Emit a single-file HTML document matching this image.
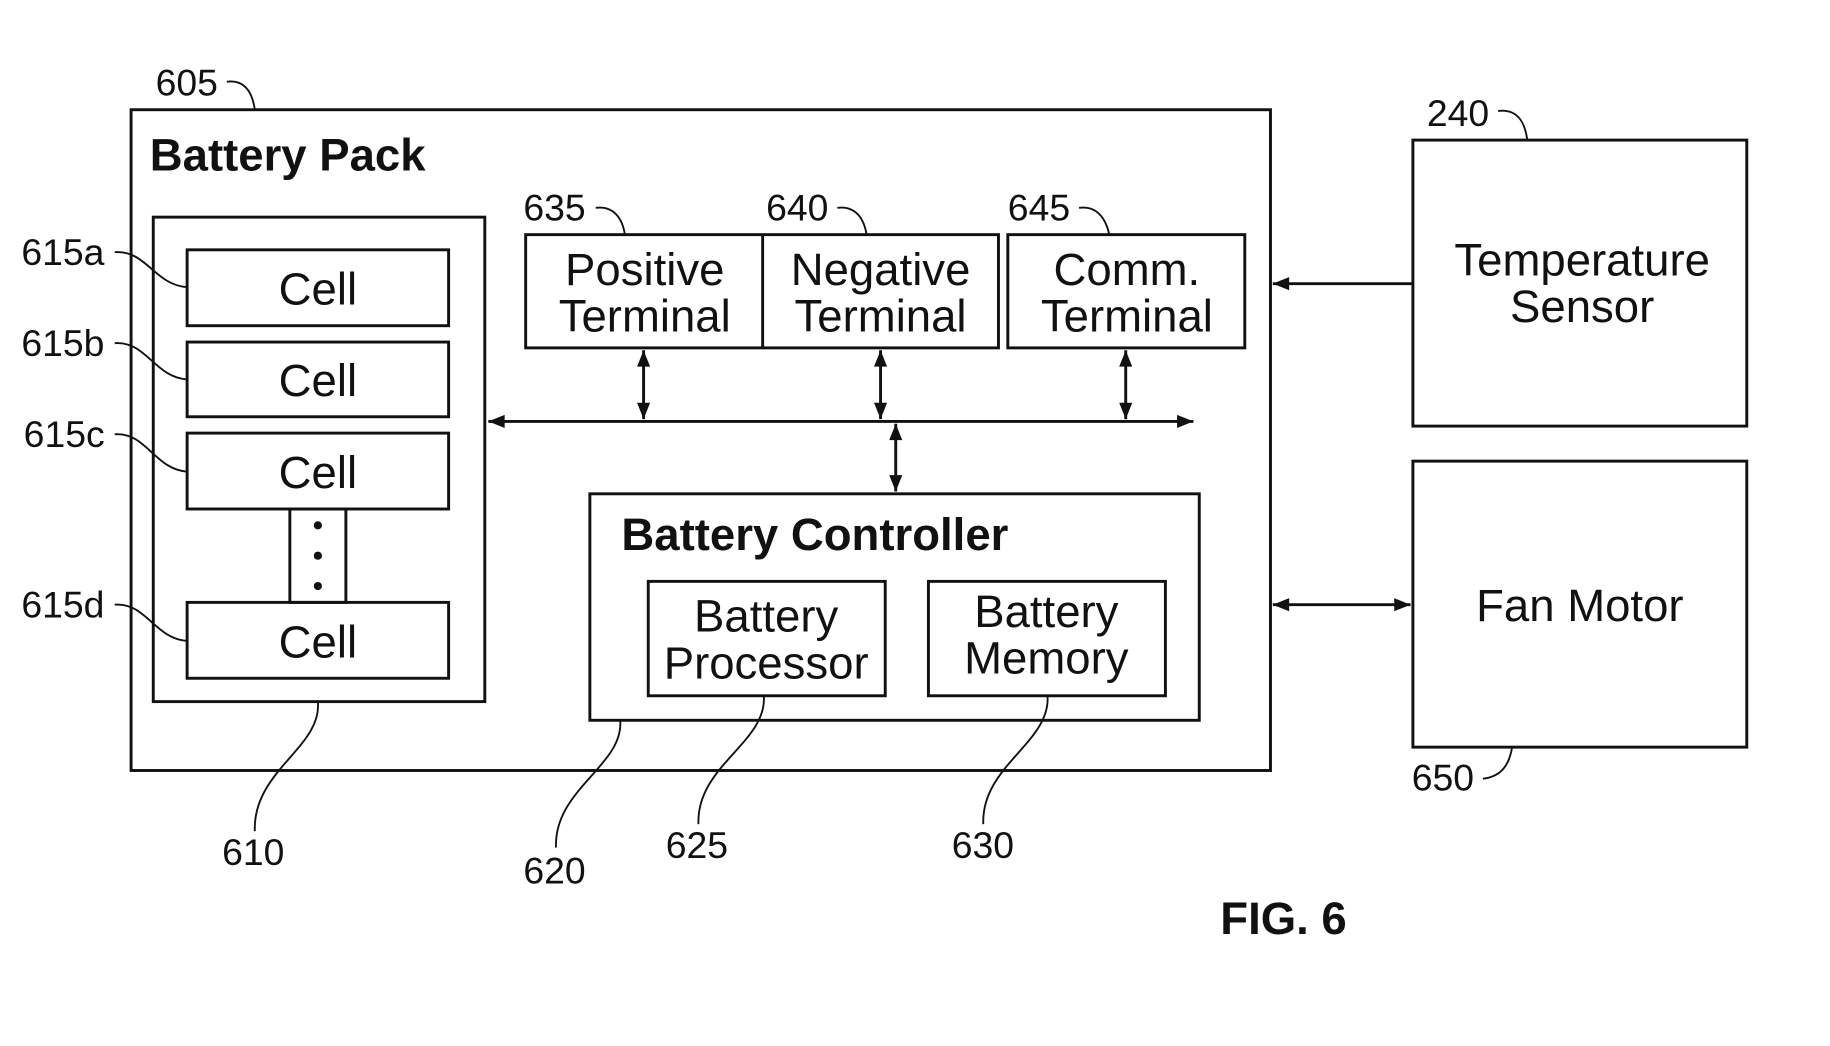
<!DOCTYPE html>
<html><head><meta charset="utf-8"><style>
html,body{margin:0;padding:0;background:#fff;}
svg{display:block;}
text{font-family:"Liberation Sans",Arial,sans-serif;fill:#111;}
.n{font-size:32px;}
.b{font-size:39px;}
.bold{font-weight:bold;font-size:39px;}
</style></head><body>
<svg width="1830" height="1046" viewBox="0 0 1567 896" xmlns="http://www.w3.org/2000/svg">
<defs>
<marker id="A" viewBox="0 0 10 10" refX="10" refY="5" markerWidth="18" markerHeight="14" orient="auto-start-reverse" markerUnits="userSpaceOnUse">
<path d="M0,1 L10,5 L0,9 Z" fill="#111"/></marker>
</defs>
<g fill="none" stroke="#111" stroke-width="2.5">
<rect x="112" y="94" width="976" height="566"/>
<rect x="131" y="186" width="284" height="415"/>
<rect x="160" y="214" width="224" height="65"/>
<rect x="160" y="293" width="224" height="64"/>
<rect x="160" y="371" width="224" height="65"/>
<rect x="160" y="516" width="224" height="65"/>
<rect x="248" y="436" width="48" height="80"/>
<rect x="450" y="201" width="405" height="97"/>
<line x1="653" y1="201" x2="653" y2="298"/>
<rect x="863" y="201" width="203" height="97"/>
<rect x="505" y="423" width="522" height="194"/>
<rect x="555" y="498" width="203" height="98"/>
<rect x="795" y="498" width="203" height="98"/>
<rect x="1210" y="120" width="286" height="245"/>
<rect x="1210" y="395" width="286" height="245"/>
</g>
<g stroke="#111" stroke-width="2.5" fill="none">
<line x1="418" y1="361" x2="1022" y2="361" marker-start="url(#A)" marker-end="url(#A)"/>
<line x1="551" y1="300" x2="551" y2="359" marker-start="url(#A)" marker-end="url(#A)"/>
<line x1="754" y1="300" x2="754" y2="359" marker-start="url(#A)" marker-end="url(#A)"/>
<line x1="964" y1="300" x2="964" y2="359" marker-start="url(#A)" marker-end="url(#A)"/>
<line x1="767" y1="363" x2="767" y2="421" marker-start="url(#A)" marker-end="url(#A)"/>
<line x1="1210" y1="243" x2="1090" y2="243" marker-end="url(#A)"/>
<line x1="1090" y1="518" x2="1208" y2="518" marker-start="url(#A)" marker-end="url(#A)"/>
</g>
<g fill="#111"><circle cx="272" cy="450" r="3.5"/><circle cx="272" cy="476" r="3.5"/><circle cx="272" cy="502" r="3.5"/></g>
<g stroke="#111" stroke-width="1.6" fill="none">
<path d="M194,70 C210,68 216,80 218,94"/>
<path d="M1283,95 C1300,93 1306,105 1308,120"/>
<path d="M1270,667 C1288,665 1293,652 1295,640"/>
<path d="M510,178 C526,176 533,188 535,201"/>
<path d="M717,178 C733,176 740,188 742,201"/>
<path d="M924,178 C940,176 947,188 950,201"/>
<path d="M98,216 C125,214 132,244 160,246"/>
<path d="M98,294 C125,292 132,323 160,325"/>
<path d="M98,372 C125,370 132,402 160,404"/>
<path d="M98,518 C125,516 132,547 160,549"/>
<path d="M272,601 C276,640 216,660 218,712"/>
<path d="M531,617 C534,656 474,676 476,726"/>
<path d="M654,596 C657,636 596,656 598,706"/>
<path d="M897,596 C900,636 840,656 842,706"/>
</g>
<g class="n">
<text x="133" y="82">605</text>
<text x="1222" y="108">240</text>
<text x="1209" y="677">650</text>
<text x="448" y="189">635</text>
<text x="656" y="189">640</text>
<text x="863" y="189">645</text>
<text x="18" y="227">615a</text>
<text x="18" y="305">615b</text>
<text x="20" y="383">615c</text>
<text x="18" y="529">615d</text>
<text x="190" y="741">610</text>
<text x="448" y="757">620</text>
<text x="570" y="735">625</text>
<text x="815" y="735">630</text>
</g>
<text x="128" y="146" class="bold">Battery Pack</text>
<text x="532" y="471" class="bold">Battery Controller</text>
<text x="1045" y="800" class="bold">FIG. 6</text>
<g class="b" text-anchor="middle">
<text x="272" y="261">Cell</text>
<text x="272" y="339">Cell</text>
<text x="272" y="418">Cell</text>
<text x="272" y="563">Cell</text>
<text x="552" y="244">Positive</text><text x="552" y="284">Terminal</text>
<text x="754" y="244">Negative</text><text x="754" y="284">Terminal</text>
<text x="965" y="244">Comm.</text><text x="965" y="284">Terminal</text>
<text x="656" y="541">Battery</text><text x="656" y="581">Processor</text>
<text x="896" y="537">Battery</text><text x="896" y="577">Memory</text>
<text x="1355" y="236">Temperature</text><text x="1355" y="276">Sensor</text>
<text x="1353" y="532">Fan Motor</text>
</g>
</svg>
</body></html>
